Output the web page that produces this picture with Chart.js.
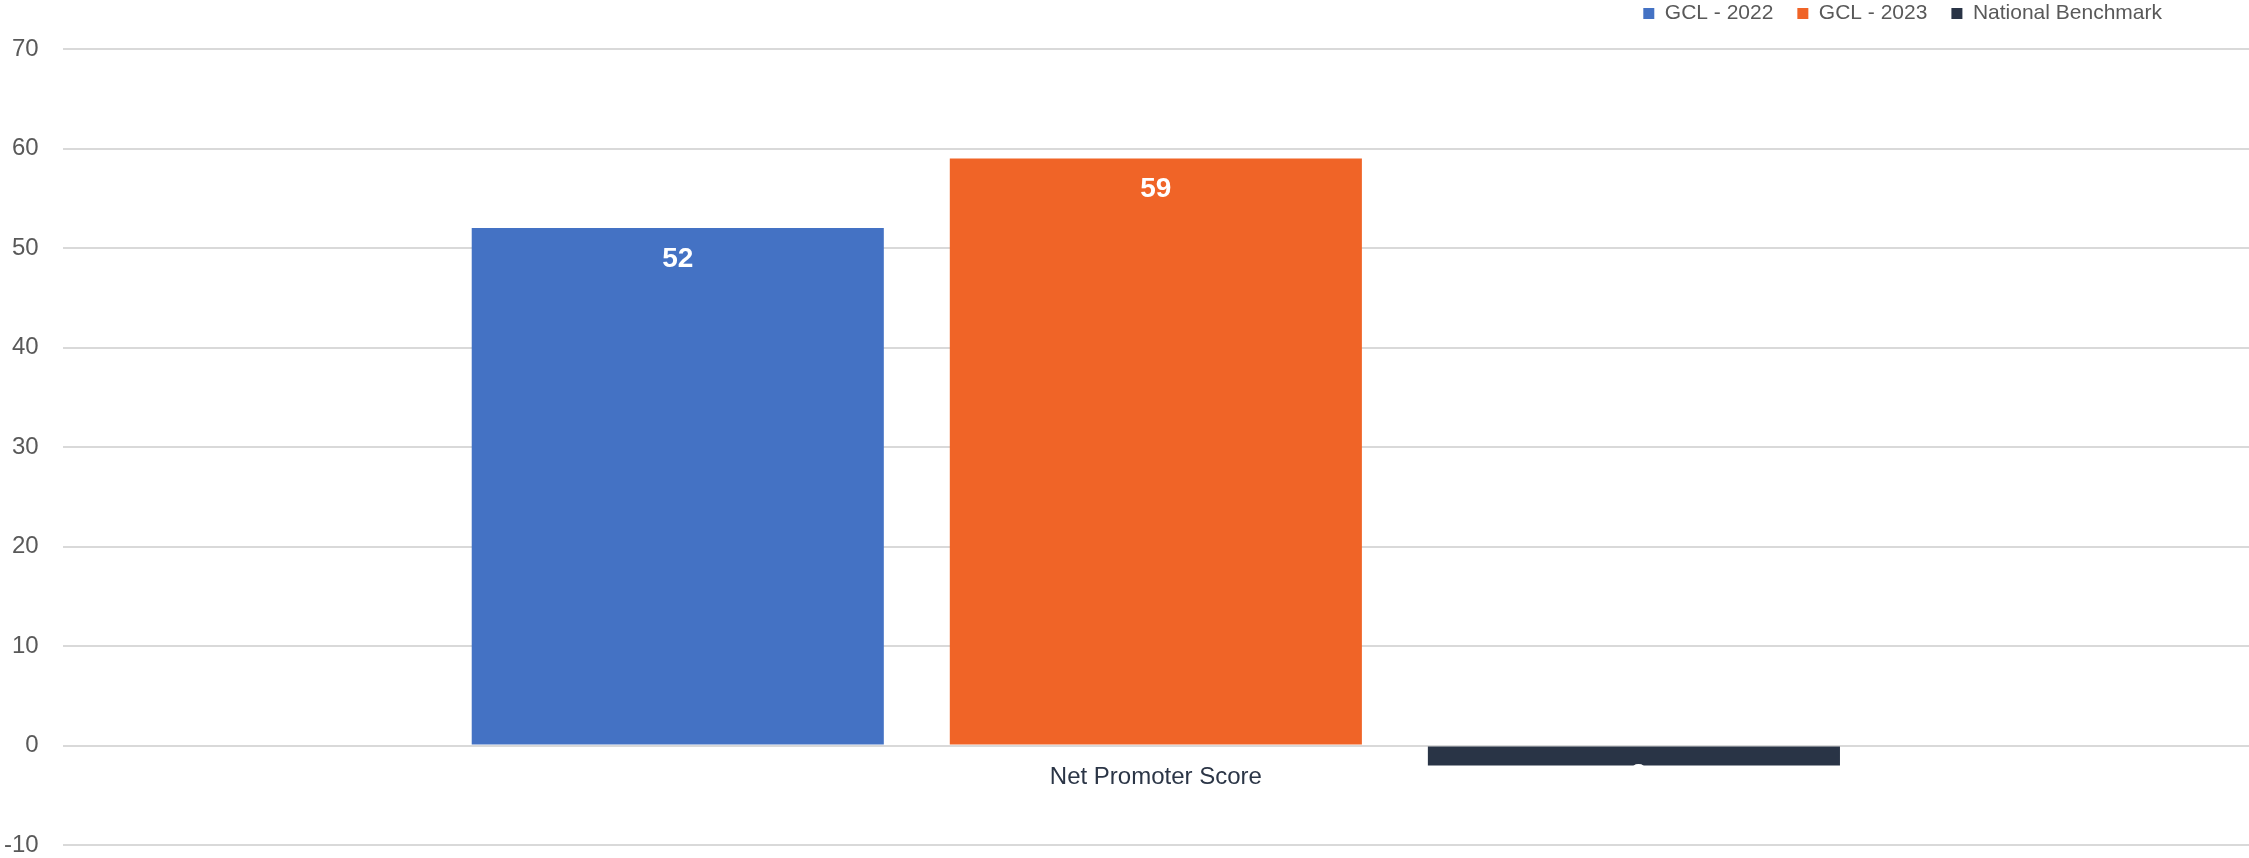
<!DOCTYPE html>
<html>
<head>
<meta charset="utf-8">
<script src="https://cdn.jsdelivr.net/npm/chart.js@4.4.1/dist/chart.umd.min.js"></script>
<style>
  html, body { margin: 0; padding: 0; background: #fff; }
  #wrap { width: 2249px; height: 858px; }
</style>
</head>
<body>
<div id="wrap"><canvas id="npsCanvas"></canvas></div>
<script>
const categories = ['Net Promoter Score'];
const seriesNames = ['GCL - 2022', 'GCL - 2023', 'National Benchmark'];
const gcl2022 = [52];
const gcl2023 = [59];
const benchmark = [-2];
const seriesColors = ['#4472c4', '#f06427', '#293446'];
const yTicks = [-10, 0, 10, 20, 30, 40, 50, 60, 70];

const FONT = "'Liberation Sans', Arial, sans-serif";

// white value labels just inside the end of each bar
const barValueLabels = {
    id: 'barValueLabels',
    afterDatasetsDraw(chart) {
        const c = chart.ctx;
        c.save();
        c.font = 'bold 28px ' + FONT;
        c.fillStyle = '#ffffff';
        c.textAlign = 'center';
        c.textBaseline = 'middle';
        chart.data.datasets.forEach((ds, i) => {
            chart.getDatasetMeta(i).data.forEach((bar, j) => {
                const v = ds.data[j];
                const y = v >= 0 ? bar.y + 31 : bar.y + 10;
                c.fillText(String(v), bar.x, y);
            });
        });
        c.restore();
    }
};

// push the legend up into the top-right corner
const legendPlacement = {
    id: 'legendPlacement',
    afterLayout(chart) {
        const lg = chart.legend;
        if (!lg) return;
        lg.right = chart.width - 63;
        lg.top = -21;
        lg.bottom = lg.top + lg.height;
    }
};

new Chart(document.getElementById('npsCanvas').getContext('2d'), {
    type: 'bar',
    data: {
        labels: categories,
        datasets: [
            { label: seriesNames[0], data: gcl2022, backgroundColor: seriesColors[0] },
            { label: seriesNames[1], data: gcl2023, backgroundColor: seriesColors[1] },
            { label: seriesNames[2], data: benchmark, backgroundColor: seriesColors[2] }
        ]
    },
    options: {
        responsive: true,
        maintainAspectRatio: false,
        animation: false,
        categoryPercentage: 0.656,
        barPercentage: 0.862,
        layout: { padding: { left: -20, right: 0, top: 0, bottom: 0 } },
        scales: {
            x: {
                position: { y: 0 },
                grid: { display: false, drawTicks: false },
                border: { display: false },
                ticks: { color: '#2b3546', font: { family: FONT, size: 24 }, padding: 17 }
            },
            y: {
                min: -10,
                max: 70,
                afterBuildTicks(scale) { scale.ticks = yTicks.map(v => ({ value: v })); },
                afterFit(scale) { scale.paddingBottom = 13; },
                grid: { color: '#d9d9d9', lineWidth: 2, drawTicks: false },
                border: { display: false },
                ticks: { color: '#595959', font: { family: FONT, size: 24 }, padding: 24 }
            }
        },
        plugins: {
            legend: {
                position: 'top',
                align: 'end',
                maxHeight: 49,
                labels: {
                    color: '#595959',
                    font: { family: FONT, size: 21 },
                    boxWidth: 11,
                    boxHeight: 11,
                    padding: 24
                }
            },
            tooltip: { enabled: false }
        }
    },
    plugins: [barValueLabels, legendPlacement]
});
</script>
</body>
</html>
